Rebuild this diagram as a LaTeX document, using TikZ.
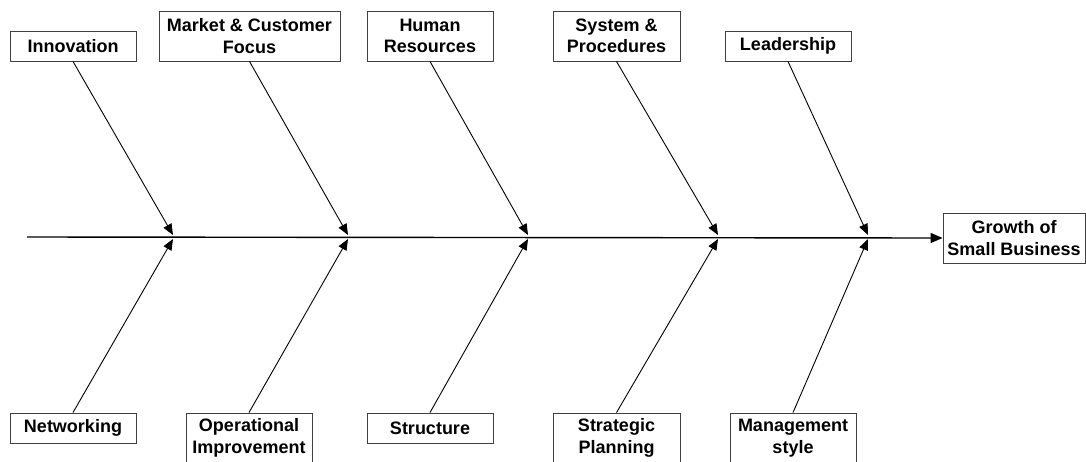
\documentclass[tikz,border=0pt]{standalone}
\usepackage{fontspec}
\setmainfont{Liberation Sans}
\usetikzlibrary{arrows.meta}
\begin{document}
\begin{tikzpicture}[x=1pt,y=-1pt,
  causebox/.style={draw=black!75, line width=0.9pt, fill=white, inner sep=0pt,
    align=center, minimum height=#1, font=\fontsize{18}{21.5}\selectfont\bfseries},
  causebox/.default=30pt,
  bone/.style={line width=0.9pt, -{Triangle[length=11pt,width=9pt]}},
  spine/.style={line width=1.4pt, -{Triangle[length=12pt,width=10pt]}}]
\useasboundingbox (0,0) rectangle (1086,461);

% effect box
\node[causebox=50pt, minimum width=142pt] (effect) at (1014,238) {Growth of\\Small Business};

% junctions on the spine
\coordinate (start) at (27,237);
\foreach \n/\x in {j1/173, j2/348, j3/528, j4/718, j5/868} {
  \coordinate (\n t) at (\x,235);
  \coordinate (\n b) at (\x,239);
}

% upper causes
\node[causebox, minimum width=126pt] (innov) at (73,46) {Innovation};
\node[causebox=50pt, minimum width=181pt] (market) at (249.5,36) {Market \& Customer\\Focus};
\node[causebox=50pt, minimum width=126pt] (human) at (430,36) {Human\\Resources};
\node[causebox=50pt, minimum width=127pt] (system) at (616.5,36) {System \&\\Procedures};
\node[causebox, minimum width=126pt] (lead) at (788,46) {Leadership};

% lower causes
\node[causebox, minimum width=126pt] (net) at (73,428) {Networking};
\node[causebox=50pt, minimum width=126pt] (oper) at (249,438) {Operational\\Improvement};
\node[causebox, minimum width=126pt] (struct) at (430,428) {Structure};
\node[causebox=50pt, minimum width=127pt] (strat) at (616.5,438) {Strategic\\Planning};
\node[causebox=50pt, minimum width=126pt] (mgmt) at (793,438) {Management\\style};

% spine
\draw[spine] (start) -- (effect.west);

% bones
\draw[bone] (innov.south) -- (j1t);
\draw[bone] (market.south) -- (j2t);
\draw[bone] (human.south) -- (j3t);
\draw[bone] (system.south) -- (j4t);
\draw[bone] (lead.south) -- (j5t);
\draw[bone] (net.north) -- (j1b);
\draw[bone] (oper.north) -- (j2b);
\draw[bone] (struct.north) -- (j3b);
\draw[bone] (strat.north) -- (j4b);
\draw[bone] (mgmt.north) -- (j5b);
\end{tikzpicture}
\end{document}
